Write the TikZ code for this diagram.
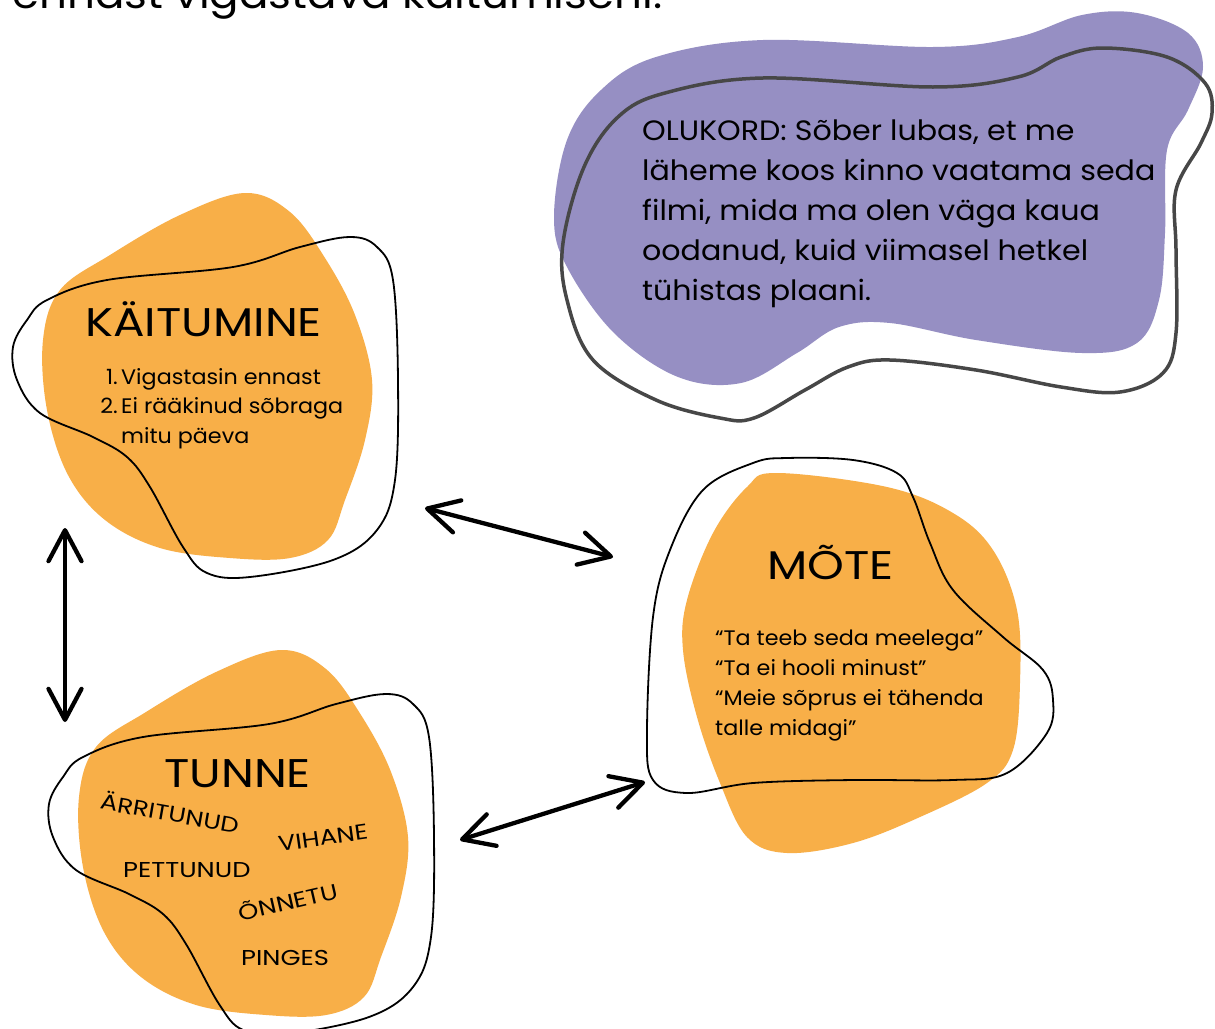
\documentclass[tikz,border=0pt]{standalone}
\usepackage{fontspec}
\setmainfont{Poppins}
\newfontfamily\headf{Poppins}[FakeStretch=1.17]
\newfontfamily\capsf{Poppins}[FakeStretch=1.2]
\newfontfamily\situf{Poppins}[FakeStretch=1.075]
\newfontfamily\bodyf{Poppins}[FakeStretch=1.06]
\newfontfamily\topf{Poppins}[FakeStretch=1.09]
\usetikzlibrary{arrows.meta}
\definecolor{blobor}{HTML}{F8AF48}
\definecolor{blobpu}{HTML}{968FC3}
\definecolor{outgr}{HTML}{474747}
\begin{document}
\begin{tikzpicture}[x=1pt,y=-1pt,
  blkline/.style={draw=black,line width=1.8pt},
  dbl/.style={line width=4.3pt,line cap=round,
    {Straight Barb[length=31pt,width=33pt,round]}-{Straight Barb[length=31pt,width=33pt,round]}},
  head/.style={font=\headf\fontsize{40}{48}\selectfont,anchor=base west,inner sep=0pt},
  body/.style={font=\bodyf\fontsize{21}{25}\selectfont,anchor=base west,inner sep=0pt},
  feel/.style={font=\capsf\fontsize{21.5}{25}\selectfont,anchor=center,inner sep=0pt},
  feelb/.style={font=\capsf\fontsize{21.5}{25}\selectfont,anchor=base west,inner sep=0pt},
  situ/.style={font=\situf\fontsize{28}{34}\selectfont,anchor=base west,inner sep=0pt}]
\useasboundingbox (0,0) rectangle (1215,1028);
\clip (0,0) rectangle (1215,1028);
\fill[white] (0,0) rectangle (1215,1028);

% top cut-off line
\node[font=\topf\fontsize{40}{48}\selectfont,anchor=base west,inner sep=0pt] (toptext) at (12,8) {ennast vigastava käitumiseni.};

% purple situation blob
\fill[blobpu] plot[smooth cycle,tension=0.6] coordinates {
 (656,57) (763,40) (933,47) (1018,37) (1082,15) (1137,13) (1188,33) (1203,67)
 (1188,110) (1167,150) (1165,233) (1159,300) (1137,343) (1082,353) (976,340)
 (890,323) (839,327) (797,353) (741,383) (678,377) (614,333) (567,267) (554,217)
 (567,140) (601,90)};
\draw[outgr,line width=3.5pt] plot[smooth cycle,tension=0.6] coordinates {
 (665,93) (763,78) (933,87) (1018,77) (1061,57) (1103,48) (1167,57) (1205,83)
 (1212,113) (1201,143) (1176,190) (1176,250) (1176,333) (1163,373) (1120,392)
 (1061,387) (976,370) (890,360) (848,367) (805,390) (754,418) (720,418) (656,400)
 (593,360) (567,300) (563,243) (584,167) (618,117)};

% KÄITUMINE blob and its copy for TUNNE
\foreach \dx/\dy in {0/0,36/457}{
\begin{scope}[shift={(\dx,\dy)}]
\fill[blobor] plot[smooth cycle,tension=0.6] coordinates {
 (245,193) (290,212) (325,258) (355,315) (372,380) (365,440) (345,500) (328,540)
 (290,558) (230,558) (160,548) (105,520) (68,475) (47,410) (43,340) (60,290)
 (110,255) (180,215)};
\draw[blkline] plot[smooth cycle,tension=0.6] coordinates {
 (47,300) (107,280) (233,267) (300,247) (350,237) (377,247) (393,280) (398,380)
 (395,480) (377,530) (333,560) (250,577) (207,573) (183,547) (150,487) (127,457)
 (93,437) (40,413) (17,380) (13,347) (27,320)};
\end{scope}}

% MÕTE blob
\fill[blobor] plot[smooth cycle,tension=0.6] coordinates {
 (777,473) (887,487) (953,513) (993,550) (1017,610) (1020,683) (1013,750) (987,783)
 (920,817) (853,843) (787,853) (747,837) (720,783) (697,717) (683,650) (687,600)
 (713,533) (747,487)};
\draw[blkline] plot[smooth cycle,tension=0.6] coordinates {
 (787,458) (853,460) (897,473) (913,497) (930,543) (953,590) (1003,637) (1043,670)
 (1053,700) (1047,733) (1007,773) (953,780) (853,780) (753,783) (687,793) (653,780)
 (647,733) (653,617) (670,550) (703,490) (753,463)};

% texts
\node[situ] (s1) at (642,140) {OLUKORD: Sõber lubas, et me};
\node[situ] (s2) at (642,180) {läheme koos kinno vaatama seda};
\node[situ] (s3) at (642,220) {filmi, mida ma olen väga kaua};
\node[situ] (s4) at (642,260) {oodanud, kuid viimasel hetkel};
\node[situ] (s5) at (642,300) {tühistas plaani.};

\node[head] (kh) at (85,336) {KÄITUMINE};
\node[body,anchor=base east] (kn1) at (118,384) {1.};
\node[body] (k1) at (121,384) {Vigastasin ennast};
\node[body,anchor=base east] (kn2) at (118,413) {2.};
\node[body] (k2) at (121,413) {Ei rääkinud sõbraga};
\node[body] (k3) at (121,443) {mitu päeva};

\node[head] (th) at (164,787) {TUNNE};
\node[feel,rotate=-10] (f1) at (170,812) {ÄRRITUNUD};
\node[feel,rotate=8] (f2) at (323,838) {VIHANE};
\node[feelb] (f3) at (123,877) {PETTUNUD};
\node[feel,rotate=13] (f4) at (288,901) {ÕNNETU};
\node[feelb] (f5) at (241,965) {PINGES};

\node[head] (mh) at (767,579) {MÕTE};
\node[body] (m1) at (715,645) {“Ta teeb seda meelega”};
\node[body] (m2) at (715,675) {“Ta ei hooli minust”};
\node[body] (m3) at (715,705) {“Meie sõprus ei tähenda};
\node[body] (m4) at (715,735) {talle midagi”};

% connectors
\coordinate (kr) at (425,508);
\coordinate (ml) at (613,557);
\coordinate (tr) at (460,840);
\coordinate (mb) at (645,782);
\coordinate (kb) at (65,528);
\coordinate (tt) at (65,722);
\draw[dbl] (kr) -- (ml);
\draw[dbl] (tr) -- (mb);
\draw[dbl] (kb) -- (tt);
\end{tikzpicture}
\end{document}
